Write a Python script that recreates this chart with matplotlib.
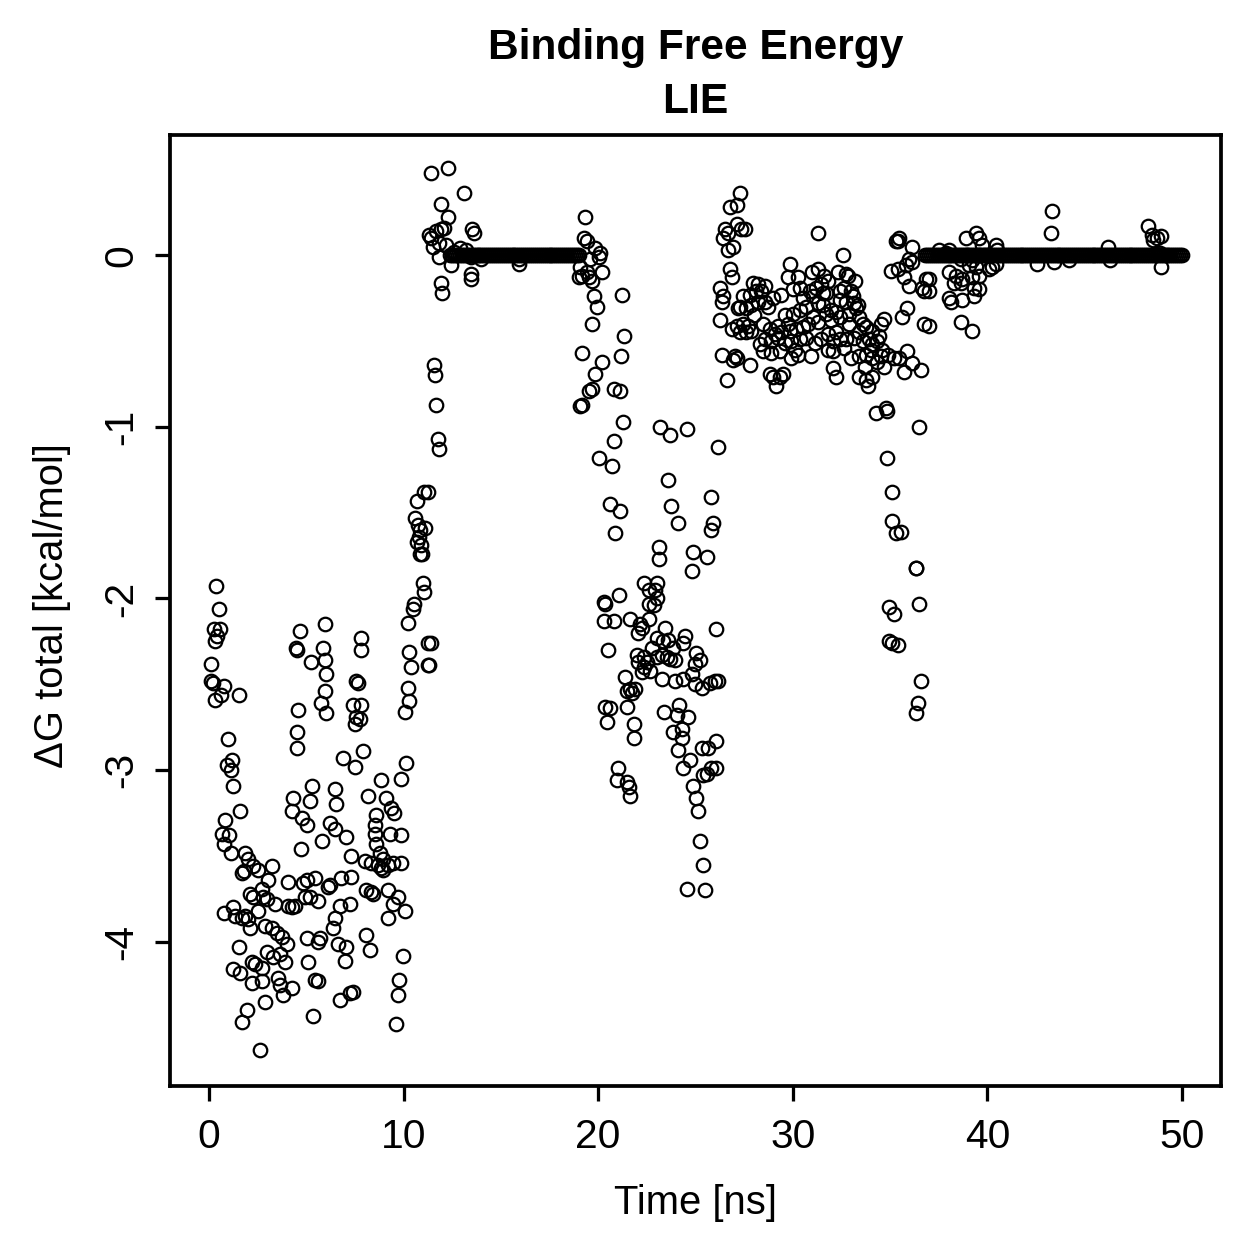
import numpy as np
import matplotlib
matplotlib.use("Agg")
import matplotlib.pyplot as plt

plt.rcParams['font.family'] = ['Liberation Sans', 'DejaVu Sans']
plt.rcParams['axes.unicode_minus'] = False

# ---------------- data ----------------
# scattered frames: time [ns], dG total [kcal/mol]
t_early = [0.37,0.53,0.24,0.58,0.41,0.29,0.12,0.12,0.19,0.75,0.63,0.32,1.55,1.00,1.18,0.92,1.14,1.26,1.60,0.83,
           0.67,1.04,0.80,1.13,1.86,2.03,4.67,5.95,4.45,4.55,5.27,5.87,5.95,6.04,4.59,5.78,6.04,4.50,4.50,5.30,
           4.33,5.18,4.25,4.76,5.02,5.82,4.72,1.78,2.29,3.22,2.54,1.72,3.05,4.08,2.71,2.11,2.29,2.80,2.97,3.39,
           4.25,4.08,4.42,5.02,4.84,5.44,4.93,5.18,5.61,6.12,0.75,1.26,1.35,1.69,1.86,2.03,2.11,2.54,2.88,3.22,
           3.48,3.74,3.99,2.97,3.31,3.65,3.91,1.52,1.26,1.60,2.20,2.37,2.71,2.20,2.71,3.56,3.65,3.82,4.25,5.10,
           5.61,5.70,5.02,5.44,5.61,2.88,1.94,1.69,5.36,2.63]
dG_early = [-1.93,-2.06,-2.18,-2.18,-2.22,-2.25,-2.38,-2.48,-2.49,-2.51,-2.56,-2.59,-2.56,-2.82,-2.94,-2.97,-3.00,-3.09,-3.24,-3.29,
            -3.37,-3.38,-3.43,-3.48,-3.48,-3.52,-2.19,-2.15,-2.29,-2.30,-2.37,-2.29,-2.36,-2.44,-2.65,-2.61,-2.67,-2.78,-2.87,-3.09,
            -3.16,-3.18,-3.24,-3.28,-3.32,-3.41,-3.46,-3.59,-3.56,-3.56,-3.58,-3.60,-3.64,-3.65,-3.69,-3.72,-3.74,-3.74,-3.75,-3.78,
            -3.80,-3.79,-3.79,-3.64,-3.66,-3.63,-3.74,-3.74,-3.76,-3.68,-3.83,-3.80,-3.85,-3.86,-3.85,-3.87,-3.92,-3.82,-3.91,-3.92,
            -3.95,-3.97,-4.01,-4.06,-4.09,-4.07,-4.12,-4.03,-4.16,-4.18,-4.12,-4.13,-4.15,-4.24,-4.23,-4.21,-4.25,-4.31,-4.27,-4.12,
            -4.00,-3.98,-3.98,-4.22,-4.23,-4.35,-4.40,-4.47,-4.43,-4.63]

t_mid = [10.99,11.07,10.56,10.48,10.22,7.83,7.83,11.24,10.30,10.39,11.24,7.57,7.66,10.22,10.30,10.05,5.95,7.40,7.83,7.57,
         7.49,7.74,6.90,7.49,7.92,10.13,9.88,8.85,8.17,9.11,9.37,9.53,8.60,8.51,8.51,8.60,8.77,8.94,8.85,9.28,
         9.88,9.88,9.45,6.47,6.55,6.21,6.47,7.06,7.32,8.00,8.34,8.68,8.94,9.20,6.21,6.81,7.32,8.09,8.34,8.43,
         9.20,9.71,9.45,10.05,9.20,7.23,6.72,6.47,6.38,8.09,8.26,6.63,7.06,6.98,9.96,9.79,9.71,6.72,7.23,7.40,
         9.62,11.05,11.26,10.70,10.60,10.75,10.85,11.10,10.80,10.70,10.90,10.85,10.95,11.41,11.30]
dG_mid = [-1.91,-1.96,-2.03,-2.06,-2.14,-2.23,-2.30,-2.26,-2.31,-2.40,-2.39,-2.48,-2.49,-2.52,-2.60,-2.66,-2.54,-2.62,-2.62,-2.69,
          -2.73,-2.70,-2.93,-2.98,-2.89,-2.96,-3.05,-3.06,-3.15,-3.16,-3.22,-3.25,-3.26,-3.32,-3.37,-3.43,-3.48,-3.52,-3.57,-3.37,
          -3.38,-3.54,-3.54,-3.11,-3.20,-3.31,-3.34,-3.39,-3.50,-3.53,-3.54,-3.55,-3.58,-3.55,-3.67,-3.63,-3.62,-3.70,-3.71,-3.72,
          -3.70,-3.74,-3.78,-3.82,-3.86,-3.78,-3.79,-3.86,-3.92,-3.96,-4.05,-4.01,-4.03,-4.11,-4.08,-4.22,-4.31,-4.34,-4.30,-4.29,
          -4.48,-1.38,-1.38,-1.43,-1.53,-1.57,-1.60,-1.59,-1.64,-1.67,-1.69,-1.74,-1.74,-2.26,-2.39]

t_bound1 = [11.41,12.30,13.12,11.92,12.27,12.10,11.33,11.41,11.67,11.92,11.50,11.84,12.44,11.92,12.00,11.84,12.18,13.54,13.63,13.46,
            13.97,13.46,13.46,15.93,15.93,12.60,12.90,13.20,11.55,11.60,11.65,11.75,11.80]
dG_bound1 = [0.48,0.51,0.36,0.30,0.22,0.16,0.12,0.10,0.14,0.15,0.05,-0.01,-0.06,-0.16,-0.22,0.07,0.06,0.15,0.13,-0.01,
             -0.02,-0.11,-0.14,-0.02,-0.05,0.02,0.04,0.03,-0.64,-0.70,-0.87,-1.07,-1.13]

t_release = [19.30,19.26,19.43,19.86,20.11,20.03,19.60,19.09,19.00,19.17,19.52,19.69,20.20,19.43,19.77,19.94,21.22,19.69,19.17,20.20,
             19.86,19.69,19.52,19.17,19.09,21.34,21.17,20.80,21.10,21.30,20.80,20.03,20.71,20.62,21.14,20.88]
dG_release = [0.22,0.10,0.08,0.04,0.01,-0.01,-0.02,-0.07,-0.13,-0.12,-0.13,-0.15,-0.10,-0.10,-0.24,-0.30,-0.23,-0.40,-0.57,-0.62,
              -0.69,-0.78,-0.79,-0.87,-0.88,-0.47,-0.59,-0.78,-0.79,-0.97,-1.08,-1.18,-1.23,-1.45,-1.49,-1.62]

t_second = [23.18,23.70,24.55,26.17,23.60,23.75,24.12,25.82,25.91,25.82,23.10,23.15,24.89,25.57,24.81,22.33,23.00,22.93,22.59,23.00,
            22.59,22.85,21.05,20.28,20.37,20.28,20.80,21.65,22.16,22.59,22.06,22.24,23.44,23.00,23.34,23.60,24.45,24.37,23.85,26.07,
            20.50,22.00,22.33,22.76,23.00,23.26,23.52,23.70,23.95,22.06,22.50,25.05,25.23,24.97,22.24,22.67,22.33,21.39,23.26,23.95,
            24.37,24.80,24.97,25.32,25.74,26.00,26.17,21.47,21.73,21.90,21.65,20.37,20.59,20.45,21.47,21.82,21.85,23.39,24.17,24.04,
            24.63,23.85,24.29,24.29,24.12,24.72,24.37,25.32,25.66,26.05,25.40,25.57,25.82,26.05,24.85,25.02,25.14,25.23,25.40,24.58,
            25.49,21.00,20.97,21.47,21.60,21.65]
dG_second = [-1.00,-1.05,-1.01,-1.12,-1.31,-1.46,-1.56,-1.41,-1.56,-1.60,-1.70,-1.77,-1.73,-1.76,-1.84,-1.91,-1.91,-1.95,-1.95,-2.00,
             -2.03,-2.04,-1.98,-2.02,-2.03,-2.13,-2.13,-2.12,-2.15,-2.12,-2.20,-2.17,-2.17,-2.23,-2.25,-2.24,-2.22,-2.26,-2.29,-2.18,
             -2.30,-2.33,-2.34,-2.29,-2.34,-2.33,-2.34,-2.35,-2.36,-2.37,-2.37,-2.32,-2.36,-2.38,-2.43,-2.42,-2.40,-2.46,-2.47,-2.48,
             -2.47,-2.44,-2.50,-2.52,-2.49,-2.48,-2.48,-2.54,-2.55,-2.53,-2.53,-2.63,-2.64,-2.72,-2.63,-2.73,-2.81,-2.66,-2.62,-2.68,
             -2.69,-2.78,-2.76,-2.81,-2.88,-2.94,-2.99,-2.87,-2.87,-2.83,-3.03,-3.02,-2.99,-2.99,-3.09,-3.16,-3.24,-3.41,-3.55,-3.69,
             -3.70,-2.99,-3.06,-3.07,-3.10,-3.15]

t_band = [27.28,26.77,27.11,27.11,26.51,26.68,26.42,26.94,26.68,26.77,26.85,26.25,26.42,26.34,27.19,26.25,26.85,26.34,27.02,26.94,
          26.60,27.36,27.53,31.29,32.60,29.84,31.29,35.29,35.03,32.73,32.82,29.75,30.26,31.62,31.80,27.96,28.21,28.55,28.13,28.38,
          27.79,27.45,28.21,28.55,27.27,27.62,27.87,29.41,30.35,30.86,31.20,31.45,31.54,31.03,31.71,32.40,32.65,32.99,33.08,32.40,
          32.73,33.16,33.33,27.11,27.45,27.71,27.62,27.87,27.28,28.47,28.81,29.24,29.75,30.00,30.35,30.69,29.84,29.07,29.41,30.17,
          30.52,31.03,31.29,31.54,31.71,31.97,32.22,31.97,32.40,32.91,33.25,33.42,33.76,33.59,34.08,34.52,34.70,28.55,28.90,29.24,
          29.58,29.92,30.35,30.69,31.12,31.45,31.80,32.05,32.40,32.73,33.16,33.59,33.93,34.09,34.44,27.11,27.79,28.47,28.90,29.32,
          29.92,30.26,30.94,31.80,32.05,32.65,33.42,33.76,34.09,34.34,34.52,35.21,28.81,28.98,29.32,29.49,29.15,32.05,32.22,33.42,
          33.76,34.09,33.85,34.26,34.78,28.00,28.70,29.00,30.10,30.80,31.30,32.20,32.90,33.00,33.40,34.00,34.30,34.60,34.90,28.30,
          29.60,30.50,33.70,34.70,33.20,32.30,31.00,30.00]
dG_band = [0.36,0.28,0.29,0.18,0.15,0.13,0.10,0.05,0.03,-0.08,-0.13,-0.19,-0.24,-0.27,-0.31,-0.38,-0.43,-0.58,-0.59,-0.61,
           -0.73,0.15,0.15,0.13,0.00,-0.05,-0.08,0.08,-0.09,-0.11,-0.12,-0.13,-0.13,-0.12,-0.15,-0.16,-0.17,-0.18,-0.21,-0.21,
           -0.23,-0.24,-0.27,-0.27,-0.30,-0.31,-0.29,-0.23,-0.19,-0.21,-0.19,-0.17,-0.22,-0.24,-0.22,-0.21,-0.19,-0.21,-0.24,-0.26,
           -0.27,-0.28,-0.29,-0.41,-0.40,-0.41,-0.45,-0.44,-0.45,-0.40,-0.43,-0.41,-0.40,-0.34,-0.32,-0.30,-0.44,-0.46,-0.45,-0.43,
           -0.42,-0.36,-0.39,-0.29,-0.34,-0.32,-0.33,-0.38,-0.36,-0.34,-0.31,-0.36,-0.42,-0.40,-0.44,-0.40,-0.37,-0.49,-0.50,-0.48,
           -0.51,-0.50,-0.49,-0.48,-0.51,-0.49,-0.46,-0.50,-0.49,-0.49,-0.48,-0.50,-0.49,-0.52,-0.47,-0.60,-0.64,-0.56,-0.57,-0.56,
           -0.60,-0.58,-0.59,-0.55,-0.56,-0.54,-0.59,-0.58,-0.60,-0.62,-0.59,-0.60,-0.69,-0.71,-0.71,-0.69,-0.76,-0.66,-0.71,-0.71,
           -0.73,-0.71,-0.76,-0.92,-0.89,-0.35,-0.30,-0.25,-0.55,-0.40,-0.28,-0.45,-0.40,-0.60,-0.45,-0.55,-0.50,-0.55,-0.58,-0.52,
           -0.35,-0.25,-0.65,-0.65,-0.15,-0.10,-0.10,-0.20]

t_fall = [35.47,35.38,36.14,35.98,36.14,35.80,35.38,35.72,35.98,36.83,36.66,36.75,35.89,35.63,36.75,35.89,35.47,36.14,36.57,35.72,
          34.86,36.49,34.86,35.12,35.12,35.29,35.55,36.32,36.35,34.95,35.21,36.49,34.95,35.12,35.38,36.57,36.44,36.34]
dG_fall = [0.10,0.08,0.05,-0.02,-0.04,-0.06,-0.08,-0.13,-0.18,-0.14,-0.19,-0.21,-0.31,-0.36,-0.40,-0.56,-0.60,-0.63,-0.67,-0.68,
           -0.91,-1.00,-1.18,-1.38,-1.55,-1.62,-1.61,-1.82,-1.82,-2.05,-2.09,-2.03,-2.25,-2.26,-2.27,-2.48,-2.61,-2.67]

t_bound2 = [43.31,43.28,48.26,48.43,48.69,48.94,48.52,48.86,48.94,46.21,46.30,42.55,43.40,44.17,38.88,39.39,39.56,39.74,40.42,40.50,
            39.56,38.97,38.62,38.02,37.51,37.85,39.22,39.05,39.39,38.02,38.36,38.70,39.22,39.56,40.07,40.25,40.42,38.28,38.62,39.30,
            39.56,38.02,38.11,38.70,39.30,38.62,39.22,37.00,37.00,37.00]
dG_bound2 = [0.26,0.13,0.17,0.12,0.10,0.11,0.09,0.01,-0.07,0.05,-0.03,-0.05,-0.04,-0.03,0.10,0.13,0.10,0.06,0.06,0.03,
             0.00,0.00,-0.02,0.03,0.03,0.01,-0.03,-0.06,-0.07,-0.10,-0.12,-0.14,-0.13,-0.12,-0.08,-0.07,-0.05,-0.16,-0.16,-0.19,
             -0.20,-0.25,-0.27,-0.26,-0.24,-0.39,-0.44,-0.14,-0.41,-0.21]

# frames sitting at dG = 0 (ligand-free plateaus), sampled every 0.1 ns
sample_step_ns = 0.1
plateau_ranges_ns = [(12.4, 19.0), (36.8, 50.0)]
plateau_value = 0.0

x_ticks = [0, 10, 20, 30, 40, 50]
y_ticks = [-4, -3, -2, -1, 0]
y_tick_labels = ["-4", "-3", "-2", "-1", "0"]
title_lines = ["Binding Free Energy", "LIE"]
x_label = "Time [ns]"
y_label = "ΔG total [kcal/mol]"

# ---------------- assemble ----------------
t_all = t_early + t_mid + t_bound1 + t_release + t_second + t_band + t_fall + t_bound2
dG_all = dG_early + dG_mid + dG_bound1 + dG_release + dG_second + dG_band + dG_fall + dG_bound2
t_plat, dG_plat = [], []
for a, b in plateau_ranges_ns:
    n = int(round((b - a) / sample_step_ns)) + 1
    tt = a + sample_step_ns * np.arange(n)
    t_plat.extend(tt.tolist())
    dG_plat.extend([plateau_value] * n)
t_all = np.array(t_all + t_plat)
dG_all = np.array(dG_all + dG_plat)

# ---------------- figure ----------------
W = H = 1259
dpi = 180
fig = plt.figure(figsize=(W / dpi, H / dpi), dpi=dpi)
ax = fig.add_axes([170 / W, 1 - 1086 / H, (1221 - 170) / W, (1086 - 135) / H])

ax.plot(t_all, dG_all, linestyle='none', marker='o', markersize=5.4,
        markerfacecolor='none', markeredgecolor='black', markeredgewidth=0.9)

ax.set_xlim(-2, 52)
ax.set_ylim(-4.84, 0.70)
ax.set_xticks(x_ticks)
ax.set_xticklabels([str(v) for v in x_ticks])
ax.set_yticks(y_ticks)
ax.set_yticklabels(y_tick_labels, rotation=90, va='center')

for s in ax.spines.values():
    s.set_linewidth(1.5)
ax.tick_params(axis='both', direction='out', length=6.0, width=1.3, labelsize=16.3)
ax.tick_params(axis='x', pad=7)
ax.tick_params(axis='y', pad=6)

fig.text(695.5 / W, 1 - 59.3 / H, title_lines[0], ha='center', va='baseline', fontsize=17, fontweight='bold')
fig.text(695.5 / W, 1 - 112.7 / H, title_lines[1], ha='center', va='baseline', fontsize=17, fontweight='bold')
fig.text(695.5 / W, 1 - 1203 / H, x_label, ha='center', va='center', fontsize=16)
fig.text(52 / W, 1 - 606 / H, y_label, ha='center', va='center', fontsize=16, rotation=90)

fig.savefig("out.png", dpi=dpi)
